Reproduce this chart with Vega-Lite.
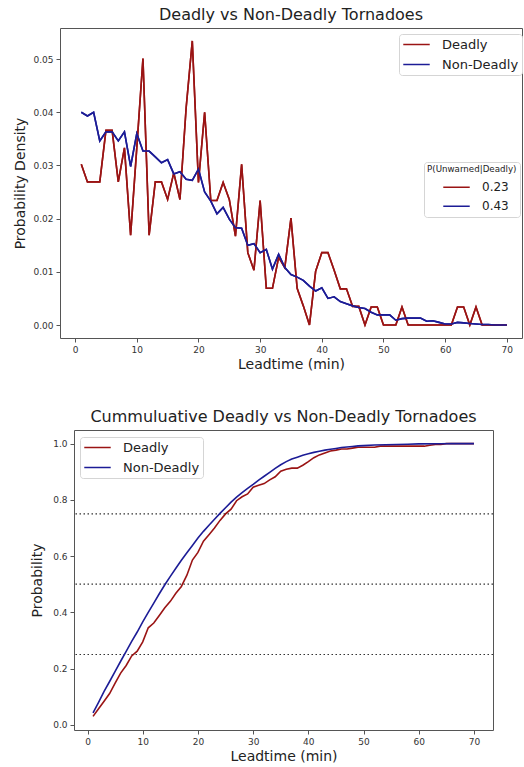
{
  "$schema": "https://vega.github.io/schema/vega-lite/v6.json",
  "padding": {"left": 12, "top": 6, "right": 0, "bottom": 0},
  "background": "white",
  "config": {
    "font": "DejaVu Sans",
    "view": {"stroke": "#555", "strokeWidth": 1},
    "axis": {"domain": false, "grid": false, "tickColor": "#555", "tickSize": 4, "labelFontSize": 9, "labelColor": "#333", "labelPadding": 3, "titleFontSize": 14, "titleFontWeight": "normal", "titleColor": "#222"},
    "title": {"fontSize": 16, "fontWeight": "normal", "color": "#222", "anchor": "middle", "offset": 5},
    "legend": {"orient": "none", "symbolType": "stroke", "symbolStrokeWidth": 1.6, "symbolSize": 700, "clipHeight": 15, "labelFontSize": 13, "labelColor": "#222", "fillColor": "white", "strokeColor": "#d5d5d5", "cornerRadius": 3, "padding": 3, "rowPadding": 5, "labelOffset": 11, "titleFontWeight": "normal", "titleColor": "#222"}
  },
  "datasets": {
    "pdf": [
      {"t":1,"v":0.0302,"series":"Deadly","p":"0.23"},{"t":2,"v":0.0269,"series":"Deadly","p":"0.23"},{"t":3,"v":0.0269,"series":"Deadly","p":"0.23"},{"t":4,"v":0.0269,"series":"Deadly","p":"0.23"},{"t":5,"v":0.0366,"series":"Deadly","p":"0.23"},{"t":6,"v":0.0366,"series":"Deadly","p":"0.23"},{"t":7,"v":0.0269,"series":"Deadly","p":"0.23"},{"t":8,"v":0.0333,"series":"Deadly","p":"0.23"},{"t":9,"v":0.0169,"series":"Deadly","p":"0.23"},{"t":10,"v":0.0333,"series":"Deadly","p":"0.23"},
      {"t":11,"v":0.0501,"series":"Deadly","p":"0.23"},{"t":12,"v":0.0169,"series":"Deadly","p":"0.23"},{"t":13,"v":0.0269,"series":"Deadly","p":"0.23"},{"t":14,"v":0.0269,"series":"Deadly","p":"0.23"},{"t":15,"v":0.0236,"series":"Deadly","p":"0.23"},{"t":16,"v":0.0286,"series":"Deadly","p":"0.23"},{"t":17,"v":0.0236,"series":"Deadly","p":"0.23"},{"t":18,"v":0.0408,"series":"Deadly","p":"0.23"},{"t":19,"v":0.0534,"series":"Deadly","p":"0.23"},{"t":20,"v":0.0268,"series":"Deadly","p":"0.23"},
      {"t":21,"v":0.0400,"series":"Deadly","p":"0.23"},{"t":22,"v":0.0234,"series":"Deadly","p":"0.23"},{"t":23,"v":0.0234,"series":"Deadly","p":"0.23"},{"t":24,"v":0.0268,"series":"Deadly","p":"0.23"},{"t":25,"v":0.0236,"series":"Deadly","p":"0.23"},{"t":26,"v":0.0167,"series":"Deadly","p":"0.23"},{"t":27,"v":0.0302,"series":"Deadly","p":"0.23"},{"t":28,"v":0.0136,"series":"Deadly","p":"0.23"},{"t":29,"v":0.0103,"series":"Deadly","p":"0.23"},{"t":30,"v":0.0234,"series":"Deadly","p":"0.23"},
      {"t":31,"v":0.0069,"series":"Deadly","p":"0.23"},{"t":32,"v":0.0069,"series":"Deadly","p":"0.23"},{"t":33,"v":0.0127,"series":"Deadly","p":"0.23"},{"t":34,"v":0.0108,"series":"Deadly","p":"0.23"},{"t":35,"v":0.0201,"series":"Deadly","p":"0.23"},{"t":36,"v":0.0069,"series":"Deadly","p":"0.23"},{"t":37,"v":0.0036,"series":"Deadly","p":"0.23"},{"t":38,"v":0.0,"series":"Deadly","p":"0.23"},{"t":39,"v":0.0101,"series":"Deadly","p":"0.23"},{"t":40,"v":0.0136,"series":"Deadly","p":"0.23"},
      {"t":41,"v":0.0136,"series":"Deadly","p":"0.23"},{"t":42,"v":0.0103,"series":"Deadly","p":"0.23"},{"t":43,"v":0.0068,"series":"Deadly","p":"0.23"},{"t":44,"v":0.0068,"series":"Deadly","p":"0.23"},{"t":45,"v":0.0035,"series":"Deadly","p":"0.23"},{"t":46,"v":0.0035,"series":"Deadly","p":"0.23"},{"t":47,"v":0.0,"series":"Deadly","p":"0.23"},{"t":48,"v":0.0034,"series":"Deadly","p":"0.23"},{"t":49,"v":0.0034,"series":"Deadly","p":"0.23"},{"t":50,"v":0.0,"series":"Deadly","p":"0.23"},
      {"t":51,"v":0.0,"series":"Deadly","p":"0.23"},{"t":52,"v":0.0,"series":"Deadly","p":"0.23"},{"t":53,"v":0.0034,"series":"Deadly","p":"0.23"},{"t":54,"v":0.0,"series":"Deadly","p":"0.23"},{"t":55,"v":0.0,"series":"Deadly","p":"0.23"},{"t":56,"v":0.0,"series":"Deadly","p":"0.23"},{"t":57,"v":0.0,"series":"Deadly","p":"0.23"},{"t":58,"v":0.0,"series":"Deadly","p":"0.23"},{"t":59,"v":0.0,"series":"Deadly","p":"0.23"},{"t":60,"v":0.0,"series":"Deadly","p":"0.23"},
      {"t":61,"v":0.0,"series":"Deadly","p":"0.23"},{"t":62,"v":0.0034,"series":"Deadly","p":"0.23"},{"t":63,"v":0.0034,"series":"Deadly","p":"0.23"},{"t":64,"v":0.0,"series":"Deadly","p":"0.23"},{"t":65,"v":0.0034,"series":"Deadly","p":"0.23"},{"t":66,"v":0.0,"series":"Deadly","p":"0.23"},{"t":67,"v":0.0,"series":"Deadly","p":"0.23"},{"t":68,"v":0.0,"series":"Deadly","p":"0.23"},{"t":69,"v":0.0,"series":"Deadly","p":"0.23"},{"t":70,"v":0.0,"series":"Deadly","p":"0.23"},
      {"t":1,"v":0.0400,"series":"Non-Deadly","p":"0.43"},{"t":2,"v":0.0393,"series":"Non-Deadly","p":"0.43"},{"t":3,"v":0.0400,"series":"Non-Deadly","p":"0.43"},{"t":4,"v":0.0346,"series":"Non-Deadly","p":"0.43"},{"t":5,"v":0.0363,"series":"Non-Deadly","p":"0.43"},{"t":6,"v":0.0363,"series":"Non-Deadly","p":"0.43"},{"t":7,"v":0.0346,"series":"Non-Deadly","p":"0.43"},{"t":8,"v":0.0363,"series":"Non-Deadly","p":"0.43"},{"t":9,"v":0.0298,"series":"Non-Deadly","p":"0.43"},{"t":10,"v":0.0360,"series":"Non-Deadly","p":"0.43"},
      {"t":11,"v":0.0327,"series":"Non-Deadly","p":"0.43"},{"t":12,"v":0.0327,"series":"Non-Deadly","p":"0.43"},{"t":13,"v":0.0316,"series":"Non-Deadly","p":"0.43"},{"t":14,"v":0.0305,"series":"Non-Deadly","p":"0.43"},{"t":15,"v":0.0311,"series":"Non-Deadly","p":"0.43"},{"t":16,"v":0.0284,"series":"Non-Deadly","p":"0.43"},{"t":17,"v":0.0288,"series":"Non-Deadly","p":"0.43"},{"t":18,"v":0.0274,"series":"Non-Deadly","p":"0.43"},{"t":19,"v":0.0272,"series":"Non-Deadly","p":"0.43"},{"t":20,"v":0.0293,"series":"Non-Deadly","p":"0.43"},
      {"t":21,"v":0.0250,"series":"Non-Deadly","p":"0.43"},{"t":22,"v":0.0233,"series":"Non-Deadly","p":"0.43"},{"t":23,"v":0.0209,"series":"Non-Deadly","p":"0.43"},{"t":24,"v":0.0221,"series":"Non-Deadly","p":"0.43"},{"t":25,"v":0.0199,"series":"Non-Deadly","p":"0.43"},{"t":26,"v":0.0183,"series":"Non-Deadly","p":"0.43"},{"t":27,"v":0.0182,"series":"Non-Deadly","p":"0.43"},{"t":28,"v":0.0150,"series":"Non-Deadly","p":"0.43"},{"t":29,"v":0.0153,"series":"Non-Deadly","p":"0.43"},{"t":30,"v":0.0136,"series":"Non-Deadly","p":"0.43"},
      {"t":31,"v":0.0142,"series":"Non-Deadly","p":"0.43"},{"t":32,"v":0.0105,"series":"Non-Deadly","p":"0.43"},{"t":33,"v":0.0133,"series":"Non-Deadly","p":"0.43"},{"t":34,"v":0.0108,"series":"Non-Deadly","p":"0.43"},{"t":35,"v":0.0095,"series":"Non-Deadly","p":"0.43"},{"t":36,"v":0.0090,"series":"Non-Deadly","p":"0.43"},{"t":37,"v":0.0084,"series":"Non-Deadly","p":"0.43"},{"t":38,"v":0.0073,"series":"Non-Deadly","p":"0.43"},{"t":39,"v":0.0064,"series":"Non-Deadly","p":"0.43"},{"t":40,"v":0.0070,"series":"Non-Deadly","p":"0.43"},
      {"t":41,"v":0.0050,"series":"Non-Deadly","p":"0.43"},{"t":42,"v":0.0053,"series":"Non-Deadly","p":"0.43"},{"t":43,"v":0.0044,"series":"Non-Deadly","p":"0.43"},{"t":44,"v":0.0040,"series":"Non-Deadly","p":"0.43"},{"t":45,"v":0.0036,"series":"Non-Deadly","p":"0.43"},{"t":46,"v":0.0033,"series":"Non-Deadly","p":"0.43"},{"t":47,"v":0.0031,"series":"Non-Deadly","p":"0.43"},{"t":48,"v":0.0024,"series":"Non-Deadly","p":"0.43"},{"t":49,"v":0.0019,"series":"Non-Deadly","p":"0.43"},{"t":50,"v":0.0019,"series":"Non-Deadly","p":"0.43"},
      {"t":51,"v":0.0019,"series":"Non-Deadly","p":"0.43"},{"t":52,"v":0.0009,"series":"Non-Deadly","p":"0.43"},{"t":53,"v":0.0012,"series":"Non-Deadly","p":"0.43"},{"t":54,"v":0.0013,"series":"Non-Deadly","p":"0.43"},{"t":55,"v":0.0013,"series":"Non-Deadly","p":"0.43"},{"t":56,"v":0.0013,"series":"Non-Deadly","p":"0.43"},{"t":57,"v":0.0007,"series":"Non-Deadly","p":"0.43"},{"t":58,"v":0.0008,"series":"Non-Deadly","p":"0.43"},{"t":59,"v":0.0005,"series":"Non-Deadly","p":"0.43"},{"t":60,"v":0.0002,"series":"Non-Deadly","p":"0.43"},
      {"t":61,"v":0.0002,"series":"Non-Deadly","p":"0.43"},{"t":62,"v":0.0005,"series":"Non-Deadly","p":"0.43"},{"t":63,"v":0.0004,"series":"Non-Deadly","p":"0.43"},{"t":64,"v":0.0003,"series":"Non-Deadly","p":"0.43"},{"t":65,"v":0.0002,"series":"Non-Deadly","p":"0.43"},{"t":66,"v":0.0001,"series":"Non-Deadly","p":"0.43"},{"t":67,"v":0.0001,"series":"Non-Deadly","p":"0.43"},{"t":68,"v":0.0,"series":"Non-Deadly","p":"0.43"},{"t":69,"v":0.0,"series":"Non-Deadly","p":"0.43"},{"t":70,"v":0.0,"series":"Non-Deadly","p":"0.43"}
    ],
    "cdf": [
      {"t":1,"v":0.030,"series":"Deadly"},{"t":2,"v":0.057,"series":"Deadly"},{"t":3,"v":0.084,"series":"Deadly"},{"t":4,"v":0.111,"series":"Deadly"},{"t":5,"v":0.148,"series":"Deadly"},{"t":6,"v":0.184,"series":"Deadly"},{"t":7,"v":0.211,"series":"Deadly"},{"t":8,"v":0.245,"series":"Deadly"},{"t":9,"v":0.262,"series":"Deadly"},{"t":10,"v":0.295,"series":"Deadly"},
      {"t":11,"v":0.345,"series":"Deadly"},{"t":12,"v":0.362,"series":"Deadly"},{"t":13,"v":0.389,"series":"Deadly"},{"t":14,"v":0.416,"series":"Deadly"},{"t":15,"v":0.439,"series":"Deadly"},{"t":16,"v":0.468,"series":"Deadly"},{"t":17,"v":0.492,"series":"Deadly"},{"t":18,"v":0.532,"series":"Deadly"},{"t":19,"v":0.586,"series":"Deadly"},{"t":20,"v":0.613,"series":"Deadly"},
      {"t":21,"v":0.653,"series":"Deadly"},{"t":22,"v":0.676,"series":"Deadly"},{"t":23,"v":0.700,"series":"Deadly"},{"t":24,"v":0.727,"series":"Deadly"},{"t":25,"v":0.750,"series":"Deadly"},{"t":26,"v":0.767,"series":"Deadly"},{"t":27,"v":0.797,"series":"Deadly"},{"t":28,"v":0.811,"series":"Deadly"},{"t":29,"v":0.821,"series":"Deadly"},{"t":30,"v":0.845,"series":"Deadly"},
      {"t":31,"v":0.852,"series":"Deadly"},{"t":32,"v":0.858,"series":"Deadly"},{"t":33,"v":0.871,"series":"Deadly"},{"t":34,"v":0.882,"series":"Deadly"},{"t":35,"v":0.902,"series":"Deadly"},{"t":36,"v":0.909,"series":"Deadly"},{"t":37,"v":0.913,"series":"Deadly"},{"t":38,"v":0.913,"series":"Deadly"},{"t":39,"v":0.923,"series":"Deadly"},{"t":40,"v":0.936,"series":"Deadly"},
      {"t":41,"v":0.950,"series":"Deadly"},{"t":42,"v":0.960,"series":"Deadly"},{"t":43,"v":0.967,"series":"Deadly"},{"t":44,"v":0.974,"series":"Deadly"},{"t":45,"v":0.977,"series":"Deadly"},{"t":46,"v":0.981,"series":"Deadly"},{"t":47,"v":0.981,"series":"Deadly"},{"t":48,"v":0.984,"series":"Deadly"},{"t":49,"v":0.987,"series":"Deadly"},{"t":52,"v":0.987,"series":"Deadly"},
      {"t":53,"v":0.991,"series":"Deadly"},{"t":61,"v":0.991,"series":"Deadly"},{"t":62,"v":0.994,"series":"Deadly"},{"t":63,"v":0.997,"series":"Deadly"},{"t":64,"v":0.997,"series":"Deadly"},{"t":65,"v":1.0,"series":"Deadly"},{"t":70,"v":1.0,"series":"Deadly"},
      {"t":1,"v":0.042,"series":"Non-Deadly"},{"t":2,"v":0.080,"series":"Non-Deadly"},{"t":3,"v":0.119,"series":"Non-Deadly"},{"t":4,"v":0.154,"series":"Non-Deadly"},{"t":5,"v":0.190,"series":"Non-Deadly"},{"t":6,"v":0.226,"series":"Non-Deadly"},{"t":7,"v":0.261,"series":"Non-Deadly"},{"t":8,"v":0.297,"series":"Non-Deadly"},{"t":9,"v":0.330,"series":"Non-Deadly"},{"t":10,"v":0.366,"series":"Non-Deadly"},
      {"t":11,"v":0.400,"series":"Non-Deadly"},{"t":12,"v":0.433,"series":"Non-Deadly"},{"t":13,"v":0.466,"series":"Non-Deadly"},{"t":14,"v":0.498,"series":"Non-Deadly"},{"t":15,"v":0.528,"series":"Non-Deadly"},{"t":16,"v":0.557,"series":"Non-Deadly"},{"t":17,"v":0.585,"series":"Non-Deadly"},{"t":18,"v":0.612,"series":"Non-Deadly"},{"t":19,"v":0.638,"series":"Non-Deadly"},{"t":20,"v":0.664,"series":"Non-Deadly"},
      {"t":21,"v":0.688,"series":"Non-Deadly"},{"t":22,"v":0.710,"series":"Non-Deadly"},{"t":23,"v":0.731,"series":"Non-Deadly"},{"t":24,"v":0.752,"series":"Non-Deadly"},{"t":25,"v":0.772,"series":"Non-Deadly"},{"t":26,"v":0.792,"series":"Non-Deadly"},{"t":27,"v":0.810,"series":"Non-Deadly"},{"t":28,"v":0.826,"series":"Non-Deadly"},{"t":29,"v":0.841,"series":"Non-Deadly"},{"t":30,"v":0.855,"series":"Non-Deadly"},
      {"t":31,"v":0.870,"series":"Non-Deadly"},{"t":32,"v":0.884,"series":"Non-Deadly"},{"t":33,"v":0.898,"series":"Non-Deadly"},{"t":34,"v":0.912,"series":"Non-Deadly"},{"t":35,"v":0.925,"series":"Non-Deadly"},{"t":36,"v":0.936,"series":"Non-Deadly"},{"t":37,"v":0.945,"series":"Non-Deadly"},{"t":38,"v":0.952,"series":"Non-Deadly"},{"t":39,"v":0.959,"series":"Non-Deadly"},{"t":40,"v":0.964,"series":"Non-Deadly"},
      {"t":41,"v":0.969,"series":"Non-Deadly"},{"t":42,"v":0.973,"series":"Non-Deadly"},{"t":43,"v":0.977,"series":"Non-Deadly"},{"t":44,"v":0.980,"series":"Non-Deadly"},{"t":45,"v":0.983,"series":"Non-Deadly"},{"t":46,"v":0.986,"series":"Non-Deadly"},{"t":47,"v":0.988,"series":"Non-Deadly"},{"t":48,"v":0.990,"series":"Non-Deadly"},{"t":49,"v":0.992,"series":"Non-Deadly"},{"t":50,"v":0.993,"series":"Non-Deadly"},
      {"t":52,"v":0.995,"series":"Non-Deadly"},{"t":54,"v":0.996,"series":"Non-Deadly"},{"t":56,"v":0.997,"series":"Non-Deadly"},{"t":58,"v":0.998,"series":"Non-Deadly"},{"t":60,"v":0.999,"series":"Non-Deadly"},{"t":64,"v":0.9995,"series":"Non-Deadly"},{"t":66,"v":1.0,"series":"Non-Deadly"},{"t":70,"v":1.0,"series":"Non-Deadly"}
    ],
    "levels": [{"v":0.25},{"v":0.5},{"v":0.75}]
  },
  "vconcat": [
    {
      "hconcat": [
        {
          "width": 1,
          "height": 1,
          "data": {"values": [{}]},
          "mark": {"type": "point", "opacity": 0, "size": 0, "strokeWidth": 0},
          "view": {"stroke": null}
        },
        {
          "width": 462,
          "height": 310,
          "title": {"text": "Deadly vs Non-Deadly Tornadoes"},
          "data": {"name": "pdf"},
          "encoding": {
            "x": {"field": "t", "type": "quantitative", "scale": {"domain": [-2.45, 72.46], "nice": false, "zero": false}, "axis": {"values": [0,10,20,30,40,50,60,70], "title": "Leadtime (min)", "titlePadding": 3}},
            "y": {"field": "v", "type": "quantitative", "scale": {"domain": [-0.00244, 0.05583], "nice": false, "zero": false}, "axis": {"values": [0,0.01,0.02,0.03,0.04,0.05], "format": ".2f", "title": "Probability Density", "titlePadding": 5}}
          },
          "layer": [
            {
              "mark": {"type": "line", "strokeWidth": 1.6},
              "encoding": {"color": {"field": "series", "type": "nominal", "scale": {"domain": ["Deadly", "Non-Deadly"], "range": ["#9a1414", "#1c1c96"]}, "legend": {"title": null, "legendX": 339, "legendY": 6}}}
            },
            {
              "mark": {"type": "line", "strokeWidth": 1.6},
              "encoding": {"color": {"field": "p", "type": "nominal", "scale": {"domain": ["0.23", "0.43"], "range": ["#9a1414", "#1c1c96"]}, "legend": {"title": "P(Unwarned|Deadly)", "titleFontSize": 8.7, "titlePadding": 6, "labelFontSize": 12, "symbolOffset": 15, "rowPadding": 4, "legendX": 364, "legendY": 134}}}
            }
          ],
          "resolve": {"scale": {"color": "independent"}}
        }
      ],
      "spacing": 0,
      "resolve": {"scale": {"color": "independent"}, "legend": {"color": "independent"}}
    },
    {
      "hconcat": [
        {
          "width": 18,
          "height": 1,
          "data": {"values": [{}]},
          "mark": {"type": "point", "opacity": 0, "size": 0, "strokeWidth": 0},
          "view": {"stroke": null}
        },
        {
          "width": 419,
          "height": 300,
          "title": {"text": "Cummuluative Deadly vs Non-Deadly Tornadoes"},
          "layer": [
            {
              "data": {"name": "levels"},
              "mark": {"type": "rule", "strokeDash": [1.5, 2.5], "color": "#333", "strokeWidth": 1.2},
              "encoding": {"y": {"field": "v", "type": "quantitative", "title": "Probability"}}
            },
            {
              "data": {"name": "cdf"},
              "mark": {"type": "line", "strokeWidth": 1.6},
              "encoding": {
                "x": {"field": "t", "type": "quantitative", "scale": {"domain": [-2.45, 73.45], "nice": false, "zero": false}, "axis": {"values": [0,10,20,30,40,50,60,70], "title": "Leadtime (min)", "titlePadding": 3}},
                "y": {"field": "v", "type": "quantitative", "scale": {"domain": [-0.0185, 1.0485], "nice": false, "zero": false}, "axis": {"values": [0,0.2,0.4,0.6,0.8,1.0], "format": ".1f", "title": "Probability", "titlePadding": 8}},
                "color": {"field": "series", "type": "nominal", "scale": {"domain": ["Deadly", "Non-Deadly"], "range": ["#9a1414", "#1c1c96"]}, "legend": {"title": null, "legendX": 6, "legendY": 7}}
              }
            }
          ]
        }
      ],
      "spacing": 0,
      "resolve": {"scale": {"color": "independent"}, "legend": {"color": "independent"}}
    }
  ],
  "spacing": 36,
  "resolve": {"scale": {"color": "independent"}, "legend": {"color": "independent"}}
}
